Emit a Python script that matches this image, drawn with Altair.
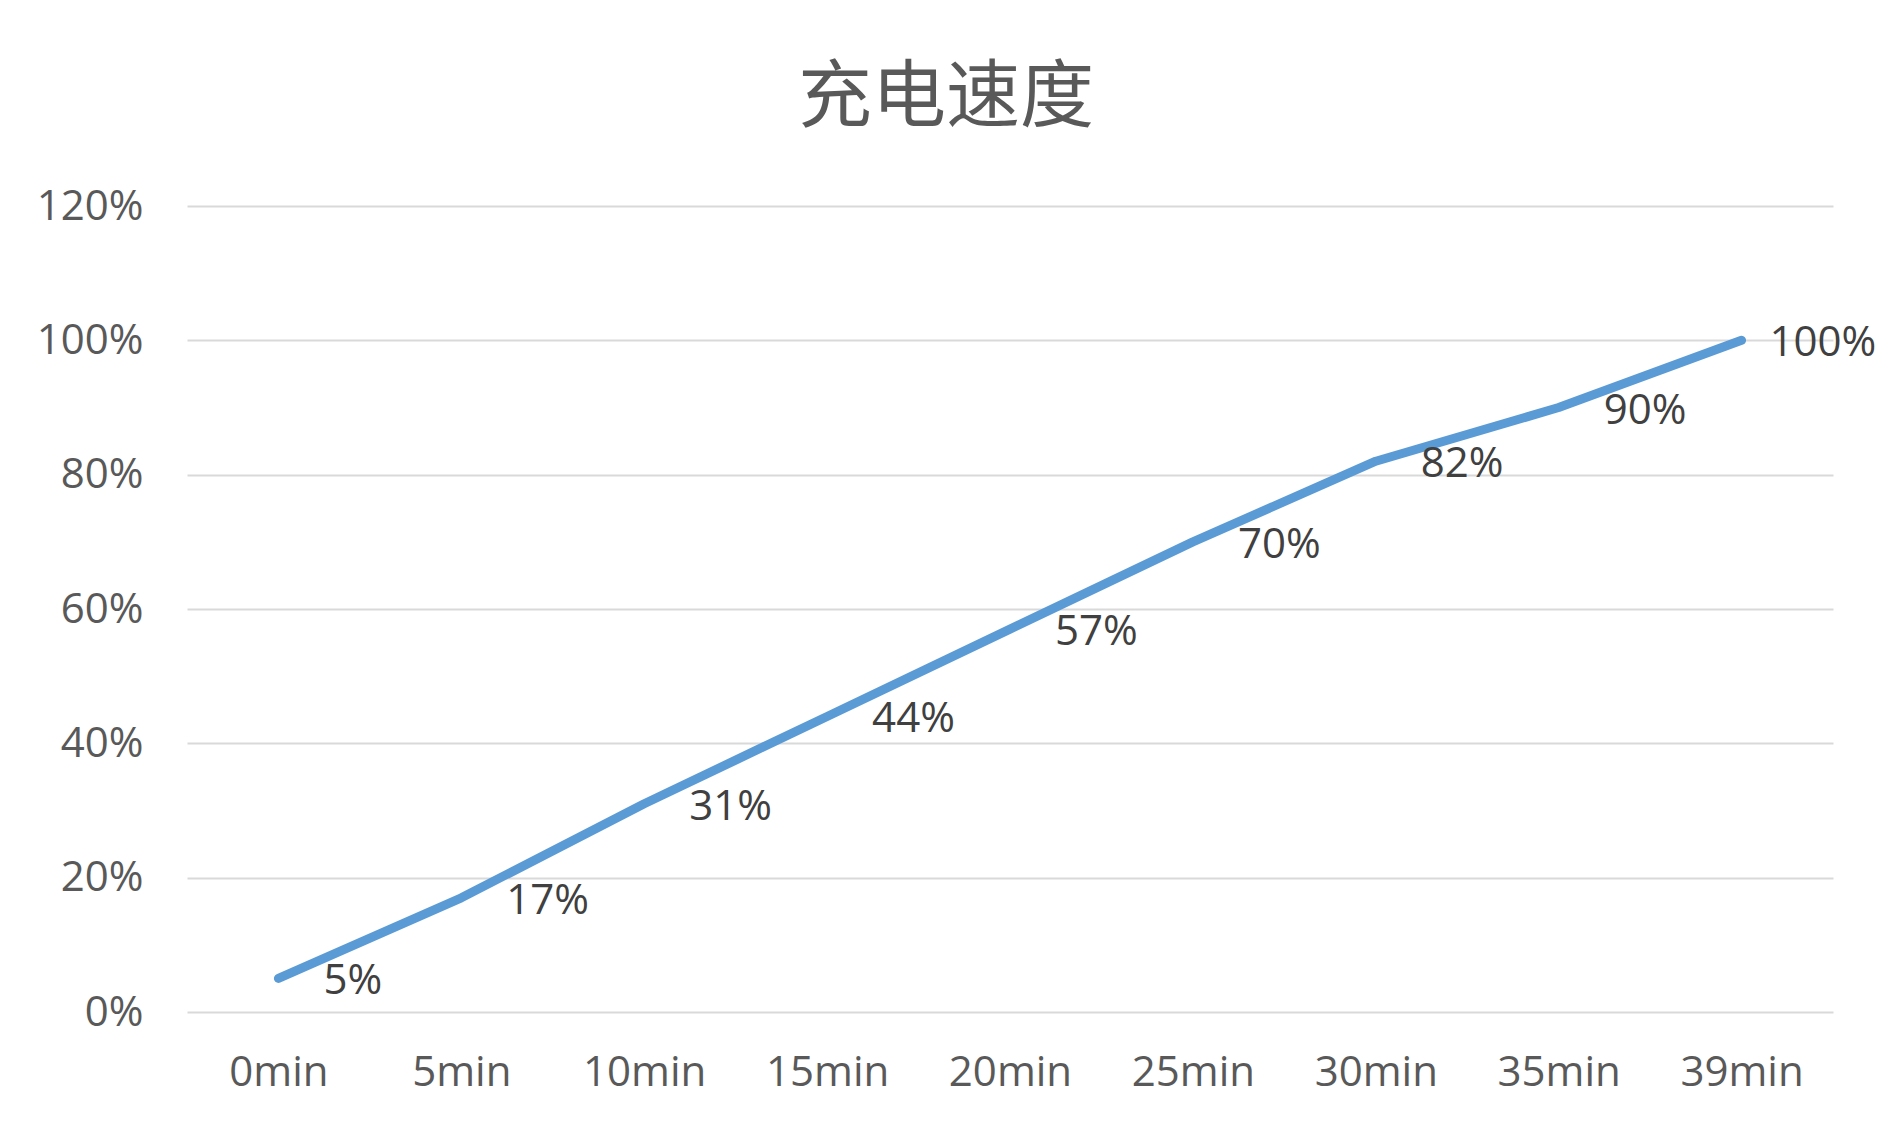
import altair as alt
import pandas as pd

times = ["0min", "5min", "10min", "15min", "20min", "25min", "30min", "35min", "39min"]
charge = [0.05, 0.17, 0.31, 0.44, 0.57, 0.70, 0.82, 0.90, 1.00]
y_ticks = [0, 0.2, 0.4, 0.6, 0.8, 1.0, 1.2]

df = pd.DataFrame({"time": times, "charge": charge, "idx": list(range(len(times)))})

FONT = "Open Sans"
CJK = "Noto Sans CJK SC"

x_enc = alt.X("time:O", sort=times, scale=alt.Scale(type="point", padding=0.5),
              axis=alt.Axis(title=None, labelAngle=0, labelFont=FONT, labelFontSize=42,
                            labelColor="#595959", labelPadding=40, ticks=False, domain=False,
                            grid=False))
y_enc = alt.Y("charge:Q", scale=alt.Scale(domain=[0, 1.2], nice=False),
              axis=alt.Axis(title=None, values=y_ticks, format=".0%", labelFont=FONT,
                            labelFontSize=42, labelColor="#595959", labelPadding=44,
                            ticks=False, domain=False, grid=True, gridColor="#D9D9D9",
                            gridWidth=2))

base = alt.Chart(df)

line = base.mark_line(color="#5B9BD5", strokeWidth=9, strokeCap="round",
                      strokeJoin="round").encode(x=x_enc, y=y_enc)

labels_main = base.transform_filter(alt.datum.idx < len(times) - 1).mark_text(
    align="left", baseline="middle", dx=45, dy=3, font=FONT, fontSize=42, color="#404040"
).encode(x=alt.X("time:O", sort=times), y="charge:Q",
         text=alt.Text("charge:Q", format=".0%"))

labels_last = base.transform_filter(alt.datum.idx == len(times) - 1).mark_text(
    align="left", baseline="middle", dx=28, dy=3, font=FONT, fontSize=42, color="#404040"
).encode(x=alt.X("time:O", sort=times), y="charge:Q",
         text=alt.Text("charge:Q", format=".0%"))

chart = alt.layer(line, labels_main, labels_last).properties(
    width=1646, height=806,
    background="white",
    title=alt.TitleParams("充电速度", font=CJK, fontSize=74, fontWeight="normal",
                          color="#595959", anchor="middle", dx=-64, offset=-10,
                          baseline="alphabetic"),
    padding={"left": 179, "top": 198, "right": 51, "bottom": 116},
    autosize=alt.AutoSizeParams(type="none"),
).configure_view(stroke=None)

chart.save("out.html", embed_options={"renderer": "svg", "actions": False})
